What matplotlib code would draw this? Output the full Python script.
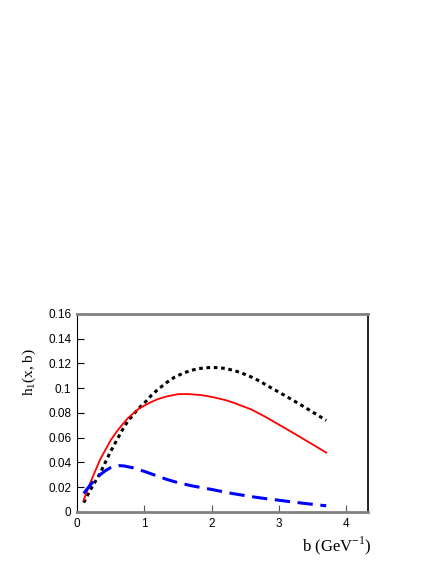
import matplotlib
matplotlib.use("Agg")
import matplotlib.pyplot as plt

# b values (GeV^-1) and the three curves
b_red = [0.1, 0.15, 0.2, 0.27, 0.34, 0.42, 0.5, 0.59, 0.67, 0.75, 0.84, 0.92, 1.0, 1.1, 1.2, 1.34, 1.5, 1.65, 1.84, 2.0, 2.2, 2.34, 2.45, 2.59, 2.8, 3.0, 3.2, 3.34, 3.5, 3.7]
h_red = [0.0097, 0.017, 0.024, 0.033, 0.042, 0.050, 0.058, 0.065, 0.0705, 0.0755, 0.080, 0.0835, 0.086, 0.0888, 0.0912, 0.0935, 0.0952, 0.0953, 0.0945, 0.093, 0.0905, 0.088, 0.0857, 0.0828, 0.0768, 0.0705, 0.0642, 0.0597, 0.0545, 0.048]

b_black = [0.1, 0.2, 0.27, 0.34, 0.42, 0.5, 0.59, 0.67, 0.75, 0.84, 0.92, 1.0, 1.1, 1.2, 1.34, 1.45, 1.59, 1.7, 1.8, 1.9, 2.0, 2.1, 2.2, 2.34, 2.45, 2.6, 2.72, 2.84, 3.0, 3.2, 3.34, 3.5, 3.7]
h_black = [0.0076, 0.018, 0.0245, 0.031, 0.040, 0.049, 0.058, 0.066, 0.073, 0.079, 0.084, 0.088, 0.094, 0.099, 0.105, 0.109, 0.1125, 0.1145, 0.1158, 0.1165, 0.1168, 0.1166, 0.1160, 0.1142, 0.1122, 0.1088, 0.1055, 0.1016, 0.0968, 0.0905, 0.0860, 0.0807, 0.074]

b_blue = [0.1, 0.17, 0.24, 0.34, 0.42, 0.49, 0.56, 0.62, 0.7, 0.84, 1.0, 1.17, 1.34, 1.5, 1.7, 2.0, 2.3, 2.59, 2.8, 3.0, 3.2, 3.4, 3.55, 3.7]
h_blue = [0.015, 0.020, 0.0246, 0.030, 0.0333, 0.0356, 0.0370, 0.0375, 0.0372, 0.0356, 0.0328, 0.0295, 0.0262, 0.0237, 0.0212, 0.0182, 0.0150, 0.0124, 0.0108, 0.0095, 0.0081, 0.0068, 0.0059, 0.0050]

y_ticks = [0, 0.02, 0.04, 0.06, 0.08, 0.1, 0.12, 0.14, 0.16]
y_labels = ["0", "0.02", "0.04", "0.06", "0.08", "0.1", "0.12", "0.14", "0.16"]
x_ticks = [0, 1, 2, 3, 4]

fig = plt.figure(figsize=(4.36, 5.64), dpi=100)
ax = fig.add_axes([0.1766, 0.0922, 0.6674, 0.3511])

ax.plot(b_black, h_black, color="black", lw=2.2, linestyle=(0, (1.2, 1.2)))
ax.plot(b_red, h_red, color="red", lw=1.3)
ax.plot(b_blue, h_blue, color="blue", lw=2.2, linestyle=(0, (5, 2.5)))

ax.set_xlim(0, 4.32)
ax.set_ylim(0, 0.16)
ax.set_xticks(x_ticks)
ax.set_xticklabels([str(t) for t in x_ticks])
ax.set_yticks(y_ticks)
ax.set_yticklabels(y_labels)
ax.tick_params(direction="in", length=5, width=0.8, labelsize=8.5, pad=4, top=False, right=False)
ax.tick_params(axis="x", colors="#555555", labelcolor="black")
for lbl in ax.get_xticklabels() + ax.get_yticklabels():
    lbl.set_family("Liberation Sans")

ax.spines["top"].set_color("#808080")
ax.spines["bottom"].set_color("#808080")
ax.spines["top"].set_linewidth(2)
ax.spines["bottom"].set_linewidth(2)
ax.spines["left"].set_linewidth(0.8)
ax.spines["right"].set_linewidth(1.2)

fig.text(0.067, 0.340, r"h$_\mathregular{1}$(x, b)", rotation=90, family="Liberation Serif",
         fontsize=11, ha="center", va="center")
fig.text(0.773, 0.032, r"b (GeV$^\mathregular{-1}$)", family="Liberation Serif",
         fontsize=12, ha="center", va="center")

plt.savefig("out.png", dpi=100)
plt.close()
